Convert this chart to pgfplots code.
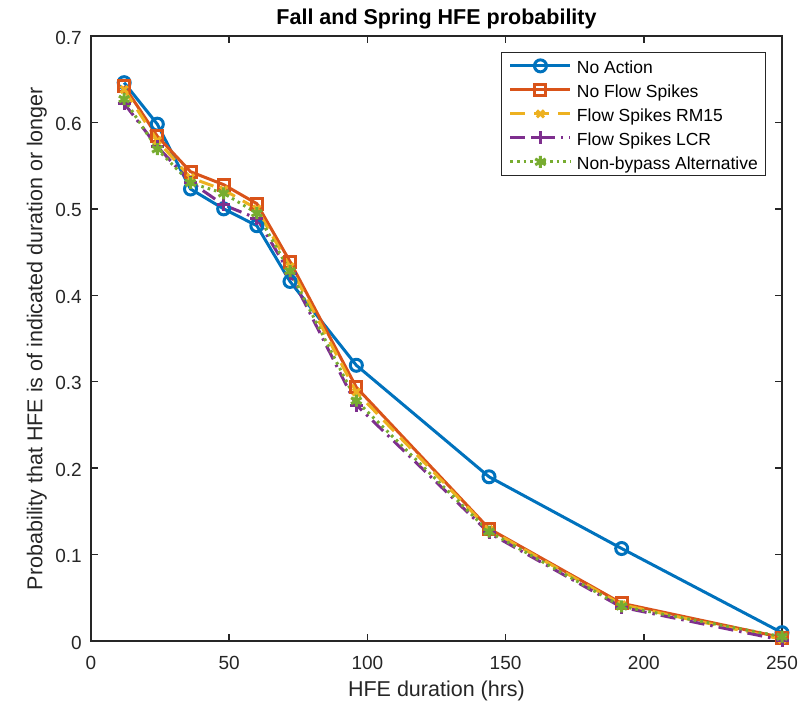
\documentclass[border=0pt]{standalone}
\usepackage{fontspec}
\setmainfont{Liberation Sans}
\usepackage{pgfplots}
\pgfplotsset{compat=1.18}
\definecolor{mblue}{rgb}{0,0.447,0.741}
\definecolor{morange}{rgb}{0.85,0.325,0.098}
\definecolor{myellow}{rgb}{0.929,0.694,0.125}
\definecolor{mpurple}{rgb}{0.494,0.184,0.556}
\definecolor{mgreen}{rgb}{0.466,0.674,0.188}
\definecolor{axgray}{rgb}{0.15,0.15,0.15}
\begin{document}
\begin{tikzpicture}
\path[use as bounding box] (-91pt,-66pt) rectangle (716pt,641pt);
\begin{axis}[
  scale only axis, width=691pt, height=605pt,
  at={(0pt,0pt)}, anchor=south west,
  xmin=0, xmax=250, ymin=0, ymax=0.7,
  xtick={0,50,100,150,200,250}, xticklabels={0,50,100,150,200,250},
  ytick={0,0.1,0.2,0.3,0.4,0.5,0.6,0.7},
  yticklabels={0,0.1,0.2,0.3,0.4,0.5,0.6,0.7},
  tick align=inside, major tick length=7pt,
  axis line style={axgray, line width=1.4pt},
  every tick/.style={axgray, line width=1.4pt},
  ticklabel style={font=\fontsize{19}{22}\selectfont, text=axgray, inner sep=0pt},
  xticklabel style={anchor=base, yshift=-28.5pt},
  yticklabel style={anchor=east, xshift=-9pt, yshift=-1.5pt},
  every axis title/.style={at={(axis description cs:0.5,1)}, anchor=base, yshift=12pt, inner sep=0pt, font=\bfseries\fontsize{21.5}{25}\selectfont, text=black},
  every axis x label/.style={at={(axis description cs:0.5,0)}, anchor=base, yshift=-56pt, inner sep=0pt, font=\fontsize{21.5}{25}\selectfont, text=axgray},
  every axis y label/.style={at={(axis description cs:-0.0703,0.5)}, rotate=90, anchor=base, inner sep=0pt, font=\fontsize{21.5}{25}\selectfont, text=axgray},
  title={Fall and Spring HFE probability},
  xlabel={HFE duration (hrs)},
  ylabel={Probability that HFE is of indicated duration or longer},
  legend cell align=left,
  legend image code/.code={\draw[mark repeat=2,mark phase=2,#1] plot coordinates {(0pt,0pt) (30pt,0pt) (60pt,0pt)};},
  legend style={at={(axis description cs:0.9768,0.9736)}, anchor=north east,
    draw=axgray, line width=1.2pt, fill=white, inner xsep=7.5pt, inner ysep=5.8pt,
    row sep=9pt, column sep=5pt,
    font=\fontsize{17.5}{20}\selectfont,
    nodes={inner sep=0pt, text height=15pt, text depth=0pt}},
]
\addplot[mblue, line width=3pt, mark=o, mark size=6pt] coordinates {
 (12,0.646) (24,0.598) (36,0.523) (48,0.500) (60,0.4805) (72,0.416) (96,0.319) (144,0.190) (192,0.107) (250,0.0096)};
\addplot[morange, line width=3pt, mark=square, mark size=5.5pt] coordinates {
 (12,0.642) (24,0.584) (36,0.543) (48,0.528) (60,0.506) (72,0.439) (96,0.2935) (144,0.130) (192,0.0436) (250,0.004)};
\addplot[myellow, line width=3pt, dash pattern=on 15pt off 9pt, mark=x, mark size=5pt, mark options={solid}] coordinates {
 (12,0.638) (24,0.579) (36,0.536) (48,0.522) (60,0.500) (72,0.433) (96,0.288) (144,0.129) (192,0.042) (250,0.002)};
\addplot[mpurple, line width=3pt, dash pattern=on 15pt off 6pt on 2.5pt off 6pt, mark=+, mark size=6.5pt, mark options={solid}] coordinates {
 (12,0.622) (24,0.572) (36,0.531) (48,0.5045) (60,0.489) (72,0.425) (96,0.273) (144,0.125) (192,0.039) (250,0.001)};
\addplot[mgreen, line width=3pt, dash pattern=on 2.6pt off 4pt, mark=asterisk, mark size=6pt, mark options={solid}] coordinates {
 (12,0.627) (24,0.569) (36,0.530) (48,0.518) (60,0.495) (72,0.428) (96,0.278) (144,0.1265) (192,0.040) (250,0.005)};
\legend{No Action, No Flow Spikes, Flow Spikes RM15, Flow Spikes LCR, Non-bypass Alternative}
\end{axis}
\end{tikzpicture}
\end{document}
